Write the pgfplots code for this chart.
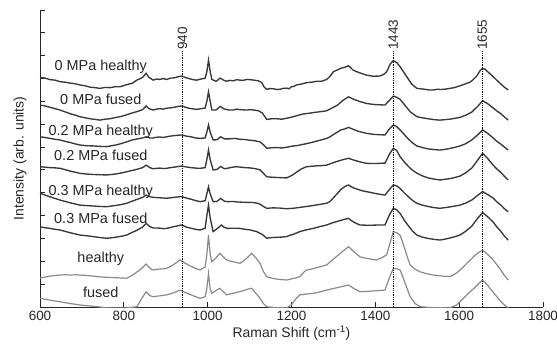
\documentclass[border=0pt]{standalone}
\usepackage{pgfplots}
\pgfplotsset{compat=1.18}
\usepackage{fontspec}
\setmainfont{Liberation Sans}
\definecolor{dk}{HTML}{383838}
\definecolor{lt}{HTML}{8A8A8A}
\begin{document}
\begin{tikzpicture}
\useasboundingbox (0,0) rectangle (557bp,346bp);
\begin{axis}[
  at={(40bp,39bp)}, anchor=south west,
  scale only axis, width=503bp, height=297bp,
  xmin=600, xmax=1800, ymin=0, ymax=13,
  axis x line*=bottom, axis y line*=left,
  axis line style={black!85, line width=0.9bp},
  tick align=inside, major tick length=5bp,
  tick style={black!85, line width=0.9bp},
  xtick={600,800,...,1800},
  ytick={0,1,...,13}, yticklabels={},
  /pgf/number format/assume math mode=true,
  /pgf/number format/1000 sep={},
  ticklabel style={font=\fontsize{13.5}{16}\selectfont, text=black!85},
  xticklabel style={yshift=-1bp},
  xlabel={Raman Shift (cm\textsuperscript{-1})},
  ylabel={Intensity (arb. units)},
  label style={font=\fontsize{14}{16}\selectfont, text=black!85},
  xlabel style={at={(axis description cs:0.5,0)}, anchor=north, yshift=-15bp},
  ylabel style={at={(axis description cs:-0.02,0.5)}, anchor=south, rotate=0},
  clip=true,
]
% 0 MPa healthy
\addplot[dk, line width=1.35bp, mark=none] coordinates {
(600,10.05)(612,10.02)(624,9.95)(636,9.93)(648,9.86)(660,9.84)(672,9.80)(684,9.77)(695,9.72)(708,9.68)(720,9.62)(732,9.60)(743,9.57)(755,9.61)(767,9.60)(779,9.64)(791,9.64)(801,9.70)(811,9.75)(821,9.80)(831,9.93)(845,10.05)(853,10.23)(860,10.05)(870,9.93)(878,9.98)(886,9.96)(894,10.0)(902,9.96)(912,10.02)(920,10.03)(930,10.08)(938,10.11)(946,10.05)(955,10.00)(965,9.95)(974,9.93)(984,9.98)(994,10.01)(998,10.3)(1002,10.81)(1006,10.3)(1010,9.96)(1020,9.88)(1030,10.02)(1038,9.93)(1045,9.88)(1053,9.92)(1061,9.90)(1069,9.95)(1077,9.93)(1085,9.92)(1093,9.96)(1102,9.95)(1110,9.93)(1121,9.90)(1129,9.82)(1135,9.62)(1141,9.53)(1149,9.56)(1157,9.55)(1165,9.52)(1173,9.53)(1180,9.57)(1188,9.58)(1194,9.55)(1200,9.64)(1206,9.66)(1212,9.72)(1224,9.76)(1236,9.82)(1248,9.84)(1260,9.88)(1272,9.88)(1284,9.96)(1292,10.1)(1300,10.30)(1310,10.38)(1318,10.45)(1328,10.50)(1336,10.56)(1347,10.37)(1355,10.30)(1363,10.25)(1371,10.20)(1379,10.15)(1395,10.10)(1411,10.11)(1420,10.18)(1427,10.30)(1436,10.65)(1443,10.78)(1451,10.70)(1459,10.52)(1467,10.30)(1475,10.08)(1487,9.75)(1499,9.57)(1508,9.55)(1518,9.53)(1528,9.50)(1538,9.50)(1548,9.53)(1558,9.52)(1568,9.54)(1578,9.57)(1588,9.60)(1598,9.66)(1608,9.72)(1618,9.79)(1625,9.83)(1632,9.93)(1642,10.11)(1650,10.35)(1656,10.45)(1662,10.40)(1668,10.30)(1681,10.08)(1690,9.92)(1700,9.75)(1708,9.62)(1717,9.50)};
% 0 MPa fused
\addplot[dk, line width=1.35bp, mark=none] coordinates {
(600,8.84)(612,8.80)(624,8.74)(636,8.68)(648,8.62)(660,8.54)(672,8.46)(684,8.40)(695,8.33)(708,8.28)(720,8.24)(732,8.21)(743,8.18)(755,8.22)(767,8.24)(779,8.29)(791,8.33)(801,8.38)(811,8.44)(821,8.50)(831,8.55)(845,8.64)(853,8.80)(860,8.68)(870,8.62)(878,8.66)(886,8.68)(894,8.66)(902,8.70)(912,8.72)(920,8.74)(930,8.78)(938,8.80)(946,8.75)(955,8.70)(965,8.67)(974,8.65)(984,8.68)(994,8.71)(998,9.0)(1002,9.42)(1006,9.0)(1010,8.62)(1020,8.62)(1030,8.78)(1038,8.68)(1045,8.64)(1053,8.62)(1061,8.62)(1069,8.66)(1077,8.64)(1085,8.63)(1093,8.62)(1102,8.64)(1110,8.62)(1121,8.59)(1130,8.50)(1141,8.21)(1153,8.24)(1165,8.24)(1177,8.22)(1188,8.26)(1198,8.30)(1208,8.35)(1218,8.40)(1228,8.45)(1242,8.48)(1256,8.52)(1270,8.55)(1284,8.59)(1296,8.70)(1310,8.84)(1323,9.05)(1336,9.20)(1350,9.08)(1365,8.98)(1379,8.91)(1390,8.88)(1400,8.86)(1412,8.85)(1423,8.84)(1434,9.05)(1443,9.23)(1451,9.18)(1459,9.09)(1471,8.82)(1483,8.55)(1499,8.33)(1512,8.28)(1526,8.24)(1540,8.20)(1554,8.18)(1566,8.20)(1578,8.22)(1590,8.26)(1602,8.30)(1616,8.40)(1630,8.53)(1645,8.80)(1656,9.03)(1668,8.90)(1681,8.71)(1690,8.58)(1700,8.45)(1708,8.32)(1717,8.18)};
% 0.2 MPa healthy
\addplot[dk, line width=1.35bp, mark=none] coordinates {
(600,7.45)(612,7.42)(624,7.38)(636,7.34)(648,7.31)(660,7.25)(672,7.20)(684,7.14)(695,7.09)(711,7.06)(727,7.05)(743,7.03)(759,7.02)(771,7.06)(783,7.10)(795,7.16)(807,7.23)(818,7.30)(830,7.35)(845,7.40)(853,7.45)(862,7.40)(870,7.40)(878,7.43)(886,7.44)(894,7.42)(902,7.45)(911,7.48)(920,7.50)(930,7.52)(938,7.53)(949,7.48)(960,7.45)(971,7.40)(982,7.38)(994,7.40)(998,7.65)(1002,7.97)(1006,7.65)(1013,7.31)(1022,7.32)(1031,7.45)(1040,7.36)(1053,7.36)(1065,7.38)(1077,7.34)(1089,7.33)(1100,7.30)(1112,7.28)(1125,7.23)(1133,7.10)(1141,6.95)(1153,6.97)(1165,6.98)(1177,6.96)(1188,6.99)(1196,7.02)(1204,7.05)(1212,7.06)(1220,7.09)(1236,7.15)(1252,7.22)(1268,7.30)(1284,7.38)(1292,7.45)(1300,7.55)(1310,7.66)(1318,7.75)(1328,7.80)(1336,7.86)(1347,7.78)(1358,7.70)(1368,7.65)(1379,7.60)(1390,7.57)(1400,7.55)(1412,7.54)(1423,7.53)(1434,7.80)(1443,7.97)(1451,7.90)(1459,7.75)(1469,7.55)(1479,7.35)(1489,7.18)(1499,7.05)(1512,6.98)(1526,6.92)(1540,6.89)(1554,6.87)(1566,6.90)(1578,6.94)(1590,6.99)(1602,7.05)(1616,7.15)(1630,7.31)(1645,7.55)(1656,7.75)(1668,7.60)(1681,7.40)(1690,7.25)(1700,7.12)(1708,7.00)(1717,6.87)};
% 0.2 MPa fused
\addplot[dk, line width=1.35bp, mark=none] coordinates {
(600,6.14)(612,6.12)(624,6.10)(636,6.09)(648,6.07)(660,6.01)(672,5.95)(684,5.90)(695,5.85)(711,5.82)(727,5.80)(743,5.79)(759,5.78)(771,5.80)(783,5.83)(795,5.87)(807,5.92)(818,5.97)(830,6.02)(845,6.10)(853,6.21)(862,6.10)(870,6.05)(878,6.07)(886,6.08)(894,6.06)(902,6.07)(911,6.10)(920,6.12)(930,6.15)(938,6.17)(949,6.13)(960,6.10)(971,6.08)(982,6.07)(994,6.10)(998,6.45)(1002,6.87)(1006,6.45)(1013,6.00)(1022,6.02)(1031,6.15)(1040,6.05)(1049,6.08)(1059,6.12)(1069,6.14)(1079,6.12)(1089,6.10)(1099,6.09)(1109,6.07)(1117,6.04)(1125,6.00)(1133,5.85)(1141,5.70)(1153,5.68)(1165,5.67)(1177,5.66)(1188,5.65)(1200,5.75)(1212,5.90)(1224,6.05)(1236,6.14)(1248,6.16)(1260,6.18)(1272,6.19)(1284,6.21)(1297,6.30)(1310,6.38)(1323,6.45)(1336,6.51)(1347,6.44)(1358,6.38)(1368,6.33)(1379,6.29)(1390,6.28)(1400,6.28)(1412,6.29)(1423,6.30)(1434,6.70)(1443,6.95)(1451,6.85)(1459,6.58)(1469,6.35)(1479,6.15)(1489,5.98)(1499,5.86)(1512,5.74)(1526,5.65)(1540,5.60)(1554,5.56)(1566,5.59)(1578,5.62)(1590,5.67)(1602,5.73)(1616,5.88)(1630,6.08)(1645,6.45)(1656,6.73)(1668,6.50)(1681,6.21)(1690,6.04)(1700,5.88)(1708,5.72)(1717,5.56)};
% 0.3 MPa healthy
\addplot[dk, line width=1.35bp, mark=none] coordinates {
(600,4.98)(612,4.90)(624,4.82)(636,4.75)(648,4.68)(660,4.62)(672,4.56)(684,4.51)(695,4.46)(711,4.44)(727,4.42)(743,4.40)(759,4.39)(771,4.42)(783,4.45)(795,4.49)(807,4.54)(818,4.62)(830,4.70)(845,4.80)(853,4.90)(862,4.83)(870,4.80)(878,4.79)(886,4.78)(894,4.77)(902,4.76)(911,4.78)(920,4.80)(930,4.82)(938,4.83)(949,4.77)(960,4.72)(971,4.66)(982,4.61)(994,4.65)(998,4.95)(1002,5.26)(1006,4.95)(1013,4.61)(1022,4.62)(1031,4.75)(1040,4.63)(1049,4.61)(1059,4.62)(1069,4.60)(1079,4.59)(1089,4.58)(1099,4.58)(1109,4.57)(1117,4.55)(1125,4.50)(1133,4.40)(1141,4.32)(1156,4.34)(1172,4.33)(1188,4.30)(1204,4.32)(1224,4.37)(1244,4.42)(1264,4.48)(1284,4.54)(1292,4.62)(1300,4.78)(1310,4.98)(1318,5.15)(1328,5.28)(1336,5.34)(1347,5.22)(1358,5.15)(1368,5.09)(1379,5.05)(1390,5.01)(1400,4.97)(1412,4.93)(1423,4.90)(1434,5.15)(1443,5.34)(1451,5.30)(1459,5.19)(1469,5.00)(1479,4.82)(1489,4.66)(1499,4.54)(1512,4.46)(1526,4.40)(1540,4.35)(1554,4.32)(1566,4.35)(1578,4.38)(1590,4.42)(1602,4.46)(1616,4.55)(1630,4.68)(1645,4.90)(1656,5.05)(1668,4.92)(1681,4.77)(1690,4.60)(1700,4.45)(1708,4.30)(1717,4.17)};
% 0.3 MPa fused
\addplot[dk, line width=1.35bp, mark=none] coordinates {
(600,3.51)(612,3.47)(624,3.44)(636,3.40)(648,3.37)(660,3.31)(672,3.25)(684,3.20)(695,3.15)(711,3.12)(727,3.08)(743,3.04)(759,3.01)(771,3.03)(783,3.06)(795,3.10)(807,3.15)(818,3.25)(830,3.35)(845,3.50)(853,3.66)(862,3.52)(870,3.46)(878,3.46)(886,3.45)(894,3.43)(902,3.44)(911,3.48)(920,3.52)(930,3.56)(938,3.59)(949,3.50)(960,3.45)(971,3.40)(982,3.37)(994,3.45)(998,4.0)(1002,4.46)(1006,3.9)(1013,3.30)(1022,3.42)(1033,3.59)(1040,3.48)(1048,3.44)(1062,3.45)(1077,3.44)(1089,3.40)(1100,3.38)(1108,3.34)(1117,3.30)(1130,3.18)(1141,3.01)(1153,3.04)(1165,3.05)(1177,3.06)(1188,3.08)(1196,3.14)(1204,3.18)(1212,3.24)(1220,3.30)(1236,3.38)(1252,3.44)(1268,3.52)(1284,3.59)(1297,3.68)(1310,3.75)(1323,3.82)(1336,3.88)(1343,3.78)(1350,3.70)(1363,3.59)(1378,3.58)(1393,3.58)(1408,3.59)(1423,3.59)(1434,4.05)(1443,4.32)(1451,4.25)(1459,4.10)(1469,3.80)(1479,3.55)(1489,3.32)(1499,3.15)(1512,3.06)(1526,3.00)(1540,2.96)(1554,2.93)(1566,2.97)(1578,3.02)(1590,3.08)(1602,3.15)(1616,3.32)(1630,3.54)(1645,3.90)(1656,4.13)(1668,3.95)(1681,3.72)(1690,3.50)(1700,3.30)(1708,3.10)(1717,2.93)};
% healthy
\addplot[lt, line width=1.2bp, mark=none] coordinates {
(600,1.26)(612,1.31)(624,1.35)(636,1.38)(648,1.40)(660,1.41)(672,1.40)(684,1.41)(695,1.40)(711,1.38)(727,1.35)(743,1.32)(759,1.30)(771,1.29)(783,1.28)(795,1.27)(807,1.26)(816,1.35)(825,1.45)(840,1.65)(853,1.88)(862,1.70)(870,1.62)(878,1.65)(886,1.66)(894,1.67)(902,1.69)(910,1.76)(918,1.85)(926,1.95)(934,2.06)(946,1.92)(958,1.80)(970,1.70)(982,1.62)(994,1.75)(998,2.3)(1002,3.15)(1006,2.3)(1010,1.98)(1020,2.15)(1029,2.35)(1037,2.20)(1045,2.06)(1053,2.01)(1061,1.98)(1069,1.95)(1077,1.91)(1084,2.00)(1091,2.10)(1098,2.22)(1105,2.35)(1115,2.15)(1125,1.91)(1133,1.55)(1141,1.33)(1153,1.26)(1165,1.22)(1177,1.20)(1188,1.18)(1196,1.21)(1204,1.25)(1212,1.28)(1220,1.33)(1228,1.50)(1236,1.62)(1248,1.66)(1260,1.72)(1272,1.78)(1284,1.84)(1297,2.05)(1310,2.25)(1323,2.45)(1336,2.64)(1343,2.52)(1350,2.40)(1363,2.20)(1373,2.15)(1383,2.12)(1393,2.08)(1403,2.06)(1415,2.15)(1427,2.28)(1435,2.80)(1443,3.30)(1451,3.25)(1459,3.15)(1465,2.85)(1471,2.50)(1477,2.15)(1483,1.84)(1495,1.65)(1507,1.54)(1522,1.46)(1538,1.40)(1548,1.38)(1558,1.36)(1568,1.34)(1578,1.33)(1588,1.42)(1598,1.55)(1608,1.72)(1618,1.91)(1628,2.08)(1637,2.25)(1646,2.38)(1656,2.49)(1668,2.30)(1681,2.06)(1690,1.85)(1700,1.60)(1708,1.38)(1717,1.18)};
% fused
\addplot[lt, line width=1.2bp, mark=none] coordinates {
(600,0.38)(612,0.34)(624,0.30)(636,0.26)(648,0.23)(660,0.19)(672,0.15)(684,0.12)(695,0.09)(711,0.06)(727,0.03)(743,0.0)(759,-0.04)(783,-0.04)(807,-0.04)(831,0.01)(842,0.35)(853,0.67)(862,0.50)(870,0.45)(878,0.47)(886,0.49)(894,0.51)(902,0.53)(910,0.57)(918,0.62)(926,0.68)(934,0.74)(946,0.64)(958,0.55)(970,0.46)(982,0.38)(994,0.45)(998,0.80)(1002,1.47)(1006,0.80)(1010,0.60)(1020,0.72)(1029,0.82)(1037,0.68)(1045,0.53)(1053,0.57)(1061,0.60)(1069,0.64)(1077,0.67)(1084,0.71)(1091,0.75)(1098,0.79)(1105,0.82)(1115,0.60)(1125,0.38)(1133,0.15)(1141,0.01)(1165,-0.03)(1188,-0.04)(1200,0.09)(1210,0.35)(1220,0.53)(1228,0.55)(1236,0.57)(1244,0.58)(1252,0.60)(1260,0.63)(1268,0.66)(1276,0.70)(1284,0.74)(1297,0.80)(1310,0.85)(1323,0.91)(1336,0.96)(1343,0.88)(1350,0.80)(1363,0.67)(1378,0.68)(1393,0.70)(1408,0.72)(1423,0.74)(1434,1.30)(1443,1.69)(1451,1.68)(1459,1.62)(1465,1.35)(1471,1.05)(1477,0.75)(1483,0.45)(1495,0.15)(1507,0.01)(1540,-0.03)(1578,-0.04)(1594,0.09)(1606,0.30)(1618,0.53)(1628,0.70)(1637,0.85)(1646,1.02)(1656,1.18)(1668,0.95)(1681,0.65)(1690,0.45)(1704,0.15)(1717,-0.04)};
% markers
\draw[black, densely dotted, line width=0.8bp] (axis cs:940,0) -- (axis cs:940,11.2);
\draw[black, densely dotted, line width=0.8bp] (axis cs:1443,0) -- (axis cs:1443,11.2);
\draw[black, densely dotted, line width=0.8bp] (axis cs:1655,0) -- (axis cs:1655,11.2);
\node[rotate=90, anchor=west, inner sep=1bp, text=black!85, font=\fontsize{13.5}{16}\selectfont] at (axis cs:940,11.2) {940};
\node[rotate=90, anchor=west, inner sep=1bp, text=black!85, font=\fontsize{13.5}{16}\selectfont] at (axis cs:1443,11.2) {1443};
\node[rotate=90, anchor=west, inner sep=1bp, text=black!85, font=\fontsize{13.5}{16}\selectfont] at (axis cs:1655,11.2) {1655};
% labels
\begin{scope}[every node/.style={font=\fontsize{14.5}{17}\selectfont, inner sep=0pt, text=black!85}]
\node at (axis cs:745,10.52) {0 MPa healthy};
\node at (axis cs:745,9.09) {0 MPa fused};
\node at (axis cs:745,7.67) {0.2 MPa healthy};
\node at (axis cs:745,6.65) {0.2 MPa fused};
\node at (axis cs:745,5.05) {0.3 MPa healthy};
\node at (axis cs:745,3.88) {0.3 MPa fused};
\node at (axis cs:745,2.13) {healthy};
\node at (axis cs:745,0.63) {fused};
\end{scope}
\end{axis}
\end{tikzpicture}
\end{document}
